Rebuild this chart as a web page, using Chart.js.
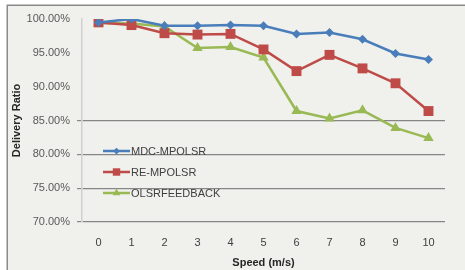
<!DOCTYPE html>
<html>
<head>
<meta charset="utf-8">
<script src="https://cdn.jsdelivr.net/npm/chart.js@4.4.1/dist/chart.umd.min.js"></script>
<style>
html,body{margin:0;padding:0;background:#ffffff;}
#wrap{position:relative;width:465px;height:270px;}
</style>
</head>
<body>
<div id="wrap"><canvas id="c" width="465" height="270"></canvas></div>
<script>
const speeds = ['0','1','2','3','4','5','6','7','8','9','10'];
const mdcMpolsr = [99.5, 100.0, 99.0, 99.0, 99.1, 99.0, 97.8, 98.0, 97.0, 94.9, 94.0];
const reMpolsr = [99.5, 99.1, 97.9, 97.7, 97.8, 95.5, 92.3, 94.7, 92.7, 90.5, 86.4];
const olsrFeedback = [99.4, 99.35, 98.9, 95.7, 95.85, 94.3, 86.4, 85.3, 86.5, 83.9, 82.4];
const seriesNames = ['MDC-MPOLSR', 'RE-MPOLSR', 'OLSRFEEDBACK'];
const yTicks = [70, 75, 80, 85, 90, 95, 100];

const FONT = 'Liberation Sans, Arial, sans-serif';

const bgPlugin = {
  id: 'bg',
  beforeDraw(chart) {
    const ctx = chart.ctx;
    ctx.save();
    ctx.fillStyle = '#f0f1ec';
    ctx.fillRect(7, 5, 470, 280);
    ctx.strokeStyle = '#8a8a8a';
    ctx.lineWidth = 1.5;
    ctx.strokeRect(7.25, 5.25, 470, 280);
    ctx.restore();
  }
};

const legendPlugin = {
  id: 'customLegend',
  afterDatasetsDraw(chart) {
    const ctx = chart.ctx;
    const rows = [151, 172, 193];
    chart.data.datasets.forEach((ds, i) => {
      const y = rows[i];
      ctx.save();
      ctx.strokeStyle = ds.borderColor;
      ctx.lineWidth = 2.5;
      ctx.beginPath();
      ctx.moveTo(103, y);
      ctx.lineTo(130, y);
      ctx.stroke();
      ctx.fillStyle = ds.borderColor;
      Chart.helpers.drawPoint(ctx, {pointStyle: ds.pointStyle, radius: ds.pointRadius * 0.75, rotation: 0, borderWidth: 0}, 116.5, y);
      ctx.fillStyle = '#404040';
      ctx.font = '11px ' + FONT;
      ctx.textBaseline = 'middle';
      ctx.textAlign = 'left';
      ctx.fillText(ds.label, 131, y + 0.5);
      ctx.restore();
    });
  }
};

new Chart(document.getElementById('c'), {
  type: 'line',
  data: {
    labels: speeds,
    datasets: [
      {label: seriesNames[0], data: mdcMpolsr, borderColor: '#4a7ebb', backgroundColor: '#4a7ebb',
       pointStyle: 'rectRot', pointRadius: 4.5, borderWidth: 2.5, pointBorderWidth: 0},
      {label: seriesNames[1], data: reMpolsr, borderColor: '#be4b48', backgroundColor: '#be4b48',
       pointStyle: 'rect', pointRadius: 7, borderWidth: 2.5, pointBorderWidth: 0},
      {label: seriesNames[2], data: olsrFeedback, borderColor: '#98b954', backgroundColor: '#98b954',
       pointStyle: 'triangle', pointRadius: 6, borderWidth: 2.5, pointBorderWidth: 0}
    ]
  },
  options: {
    responsive: false,
    animation: false,
    devicePixelRatio: 1,
    layout: {padding: {left: 0, top: 19, right: 20, bottom: 0}},
    plugins: {legend: {display: false}, tooltip: {enabled: false}},
    elements: {line: {tension: 0}},
    scales: {
      x: {
        type: 'category',
        offset: true,
        grid: {display: false, drawTicks: false},
        border: {display: false},
        ticks: {color: '#404040', font: {family: FONT, size: 11}, padding: 14, maxRotation: 0},
        title: {display: true, text: 'Speed (m/s)', color: '#262626', font: {family: FONT, size: 11, weight: 'bold'}, padding: {top: 2, bottom: 0}},
        afterFit(s) { s.height = 48; }
      },
      y: {
        min: 70, max: 100,
        afterBuildTicks(s) { s.ticks = yTicks.map(v => ({value: v})); },
        grid: {
          color: ctx => (ctx.tick && ctx.tick.value <= 85) ? '#868686' : 'rgba(0,0,0,0)',
          lineWidth: 1.2,
          tickLength: 5,
          drawOnChartArea: true
        },
        border: {display: true, color: '#d0d0d0', width: 1.5},
        ticks: {color: '#595959', font: {family: FONT, size: 11}, padding: 7,
                callback: v => Number(v).toFixed(2) + '%'},
        title: {display: true, text: 'Delivery Ratio', color: '#262626', font: {family: FONT, size: 11, weight: 'bold'}, padding: {top: 10, bottom: 2}},
        afterFit(s) { s.width = 82; }
      }
    }
  },
  plugins: [bgPlugin, legendPlugin]
});
</script>
</body>
</html>
